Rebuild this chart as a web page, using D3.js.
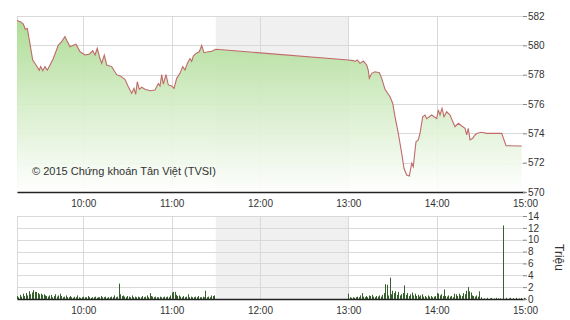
<!DOCTYPE html>
<html lang="vi">
<head>
<meta charset="utf-8" />
<title>VN-Index</title>
<script src="https://cdn.jsdelivr.net/npm/d3@7"></script>
<style>
  body { margin: 0; background: #fff; }
  svg text { font-family: "Liberation Sans", Arial, sans-serif; fill: #333; }
</style>
</head>
<body>
<svg id="chart" width="570" height="320"></svg>
<script>
// gia (index) theo thoi gian
var priceTimes = [
  "09:15:00","09:17:30","09:19:18","09:20:38","09:22:00","09:23:50","09:25:40","09:27:55","09:30:05","09:31:05",
  "09:32:30","09:34:00","09:35:35","09:37:25","09:39:40","09:43:00","09:45:20","09:47:35","09:48:45","09:51:00",
  "09:53:15","09:55:05","09:57:50","10:01:10","10:04:05","10:06:25","10:08:00","10:09:30","10:11:20","10:12:30",
  "10:14:17","10:15:55","10:19:20","10:22:42","10:25:25","10:28:20","10:30:35","10:32:53","10:34:27","10:35:36",
  "10:36:42","10:38:03","10:39:41","10:41:55","10:45:19","10:48:43","10:51:00","10:52:07","10:53:16","10:54:21",
  "10:56:11","10:57:45","11:00:04","11:01:38","11:03:28","11:05:42","11:07:32","11:09:06","11:10:40","11:12:30",
  "11:13:38","11:14:44","11:16:34","11:18:48","11:20:26","11:22:00","11:24:55","11:27:13","11:30:00",
  "13:00:00","13:03:23","13:04:32","13:06:06","13:07:56","13:10:10","13:12:29","13:13:34","13:14:15","13:15:53",
  "13:18:08","13:21:03","13:22:41","13:24:55","13:28:19","13:30:09","13:31:43","13:33:57","13:36:16","13:37:50",
  "13:39:40","13:41:26","13:43:04","13:44:09","13:44:50","13:45:59","13:47:33","13:48:42","13:50:32","13:52:06",
  "13:53:15","13:55:01","13:56:39","13:58:13","14:00:03","14:01:08","14:02:17","14:03:39","14:05:00","14:06:50",
  "14:09:05","14:10:55","14:12:29","14:14:43","14:17:01","14:19:16","14:20:25","14:21:30","14:22:39","14:24:29",
  "14:26:02","14:27:36","14:30:35","14:33:59","14:44:10","14:47:07","14:57:45"
];
var priceValues = [
  581.7,581.6,581.45,581.1,581.15,580.1,579.0,578.66,578.3,578.55,
  578.27,578.55,578.3,578.66,579.1,580.0,580.25,580.6,580.35,579.9,
  580.0,580.07,579.56,579.34,579.4,579.63,579.34,579.8,579.1,578.77,
  579.34,578.66,578.55,578.0,577.9,577.68,577.18,576.73,577.07,576.66,
  577.52,577.0,577.14,577.0,576.9,576.95,577.4,577.23,578.0,577.36,
  578.0,577.3,577.23,577.07,577.75,578.09,578.55,578.32,578.77,579.1,
  578.9,579.27,579.45,579.56,580.0,579.5,579.56,579.6,579.73,
  579.0,578.96,578.9,579.0,578.77,578.93,578.66,578.3,577.75,578.09,
  578.2,578.13,577.75,577.0,576.5,576.05,575.14,574.0,572.64,571.6,
  571.16,571.09,571.96,571.72,572.4,573.43,573.55,574.0,575.13,575.25,
  575.0,575.13,575.25,575.13,575.0,575.6,575.25,575.7,575.13,575.47,
  575.25,574.8,574.45,574.68,574.5,574.34,573.89,574.34,573.55,573.66,
  573.89,574.0,574.07,574.0,574.0,573.16,573.14
];

// khoi luong (trieu) moi phut, phien sang tu 09:15, phien chieu tu 13:00
var morningStart = "09:15:00";
var morningVol = [
  0.5,0.3,0.7,0.4,0.9,0.5,1.0,0.6,1.3,0.8,
  1.1,1.5,1.2,1.2,1.0,0.8,0.9,0.7,0.8,0.6,
  0.5,0.4,0.6,0.7,0.3,0.5,0.8,0.4,0.6,0.9,
  0.5,0.3,0.4,0.6,0.3,0.3,0.5,0.3,0.2,0.4,
  0.3,0.6,0.3,0.2,0.3,0.4,0.3,0.3,0.5,0.3,
  0.2,0.3,0.3,0.4,0.2,0.3,0.3,0.5,0.3,0.3,
  0.4,0.2,0.3,0.3,0.4,0.3,0.6,0.3,0.4,2.6,
  0.8,0.5,0.6,0.4,0.3,0.5,0.4,0.3,0.6,0.3,
  0.4,0.3,0.4,0.3,0.3,0.5,0.3,0.4,0.6,0.3,
  1.0,0.5,0.4,0.3,0.4,0.3,0.3,0.4,0.3,0.3,
  0.4,0.3,0.4,0.3,0.6,1.1,1.2,1.2,0.7,0.5,
  0.6,0.4,0.3,0.5,0.3,0.4,0.8,0.3,0.4,0.3,
  0.3,0.4,0.3,0.5,0.3,0.3,0.4,0.3,1.4,0.3,
  0.4,0.3,0.6,0.5,0.6
];
var afternoonStart = "13:00:00";
var afternoonVol = [
  0.9,0.3,0.2,0.3,0.2,0.3,0.4,0.3,0.6,1.0,
  0.4,0.3,0.5,0.3,0.6,0.5,0.7,0.4,0.3,0.5,
  0.4,0.6,0.4,0.7,1.0,2.5,2.4,0.6,3.6,0.8,
  1.4,1.0,1.3,0.7,1.2,0.6,0.8,1.0,2.3,0.7,
  1.0,0.5,0.8,1.1,0.6,0.9,0.5,0.7,0.4,0.6,
  0.8,0.4,0.5,0.3,0.6,0.4,0.5,0.3,0.4,0.5,
  1.0,0.9,0.6,0.8,0.5,1.6,0.5,0.4,0.6,0.4,
  0.5,0.3,0.9,0.8,0.5,0.9,0.6,0.5,1.0,0.8,
  1.4,2.0,1.3,1.1,0.6,0.5,0.4,0.6,0.4,1.3,
  0.3,0.0,0.1,0.0,0.2,0.0,0.1,0.2,0.0,0.1,
  0.2,0.0,0.1,0.1,0.0,12.4,0.0,0.2,0.0,0.1,
  0.2,0.0,0.15,0.0,0.2,0.0,0.1,0.15,0.0,0.2,0.1
];

var priceTicks = [570, 572, 574, 576, 578, 580, 582];
var volTicks = [0, 2, 4, 6, 8, 10, 12, 14];
var hourTicks = ["10:00", "11:00", "12:00", "13:00", "14:00", "15:00"];
var breakStart = "11:30:00", breakEnd = "13:00:00";

var parse = d3.timeParse("%H:%M:%S");
var parseHM = d3.timeParse("%H:%M");

var svg = d3.select("#chart");
var left = 17, right = 525;
var top1 = 16, bottom1 = 192;
var top2 = 216, bottom2 = 299;

var x = d3.scaleTime()
    .domain([parse("09:15:00"), parse("15:00:00")])
    .range([left, right]);
var y = d3.scaleLinear().domain([570, 582]).range([bottom1, top1]);
var yv = d3.scaleLinear().domain([0, 14]).range([bottom2, top2]);

var price = priceTimes.map(function(t, i) {
  return { t: parse(t), v: priceValues[i] };
});

function volSeries(start, arr) {
  var s = parse(start);
  return arr.map(function(v, i) {
    return { t: d3.timeMinute.offset(s, i), v: v };
  });
}
var volume = volSeries(morningStart, morningVol).concat(volSeries(afternoonStart, afternoonVol));

var defs = svg.append("defs");
var grad = defs.append("linearGradient")
    .attr("id", "fillGrad")
    .attr("gradientUnits", "userSpaceOnUse")
    .attr("x1", 0).attr("y1", top1).attr("x2", 0).attr("y2", bottom1);
grad.append("stop").attr("offset", "0%").attr("stop-color", "#a9da8f").attr("stop-opacity", 0.95);
grad.append("stop").attr("offset", "100%").attr("stop-color", "#ffffff").attr("stop-opacity", 0.9);

// vung nghi trua
[[top1, bottom1], [top2, bottom2]].forEach(function(p) {
  svg.append("rect")
    .attr("x", x(parse(breakStart)))
    .attr("y", p[0])
    .attr("width", x(parse(breakEnd)) - x(parse(breakStart)))
    .attr("height", p[1] - p[0])
    .attr("fill", "#f0f0f0");
});

// luoi
function grid(ys, yTop, yBottom, ticks) {
  var g = svg.append("g").attr("stroke", "#d9d9d9").attr("stroke-width", 1);
  ticks.forEach(function(d) {
    g.append("line")
      .attr("x1", left).attr("x2", right)
      .attr("y1", Math.round(ys(d)) + 0.5).attr("y2", Math.round(ys(d)) + 0.5);
  });
  hourTicks.slice(0, 5).forEach(function(h) {
    var xx = Math.round(x(parseHM(h))) + 0.5;
    g.append("line").attr("x1", xx).attr("x2", xx).attr("y1", yTop).attr("y2", yBottom);
  });
  g.append("line").attr("x1", left + 0.5).attr("x2", left + 0.5).attr("y1", yTop).attr("y2", yBottom);
}
grid(y, top1, bottom1, priceTicks);
grid(yv, top2, bottom2, volTicks);

var area = d3.area()
    .x(function(d) { return x(d.t); })
    .y0(y(570))
    .y1(function(d) { return y(d.v); });
var line = d3.line()
    .x(function(d) { return x(d.t); })
    .y(function(d) { return y(d.v); });

svg.append("path").datum(price).attr("d", area).attr("fill", "url(#fillGrad)");
svg.append("path").datum(price).attr("d", line)
    .attr("fill", "none").attr("stroke", "#c06a6a").attr("stroke-width", 1.1);

svg.append("text")
    .attr("x", 32).attr("y", 175)
    .attr("font-size", 11)
    .text("© 2015 Chứng khoán Tân Việt (TVSI)");

// khoi luong
svg.append("g").selectAll("rect")
  .data(volume.filter(function(d) { return d.v > 0; }))
  .join("rect")
    .attr("x", function(d) { return Math.round(x(d.t)); })
    .attr("width", 1)
    .attr("y", function(d) { return yv(d.v); })
    .attr("height", function(d) { return bottom2 - yv(d.v); })
    .attr("fill", "#35602b");

// truc
var xAxis = d3.axisBottom(x)
    .tickValues(hourTicks.map(function(h) { return parseHM(h); }))
    .tickFormat(d3.timeFormat("%H:%M"))
    .tickSize(0).tickPadding(8);
[bottom1, bottom2].forEach(function(b) {
  svg.append("g").attr("transform", "translate(0," + b + ")").call(xAxis)
    .call(function(g) {
      g.select(".domain").attr("stroke", "#222").attr("stroke-width", 1.5);
      g.selectAll("text").attr("font-size", 10).attr("fill", "#333");
    });
});

function rightAxis(scale, ticks) {
  return d3.axisRight(scale).tickValues(ticks).tickSize(4).tickPadding(1);
}
[[y, priceTicks], [yv, volTicks]].forEach(function(a) {
  svg.append("g").attr("transform", "translate(" + (right - 2) + ",0)").call(rightAxis(a[0], a[1]))
    .call(function(g) {
      g.select(".domain").remove();
      g.selectAll("line").attr("stroke", "#888");
      g.selectAll("text").attr("font-size", 10).attr("fill", "#333");
    });
});

svg.append("text")
    .attr("transform", "translate(555," + ((top2 + bottom2) / 2) + ") rotate(90)")
    .attr("text-anchor", "middle")
    .attr("font-size", 12)
    .text("Triệu");
</script>
</body>
</html>
